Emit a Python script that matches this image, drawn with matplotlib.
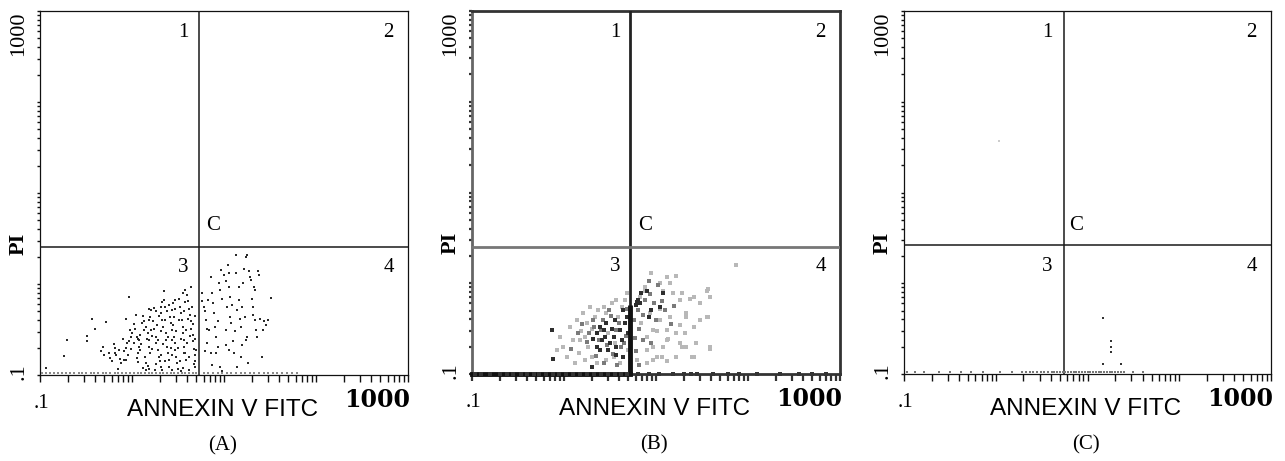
#Annexin V / PI flow cytometry dot plots, panels A, B and C
#values are log10 of fluorescence intensity (axes run from .1 to 1000)
import numpy as np
import matplotlib
matplotlib.use("Agg")
import matplotlib.pyplot as plt
from matplotlib.ticker import LogLocator, NullFormatter

SERIF = "Liberation Serif"
SANS = "Liberation Sans"

#quadrant gate (log10 units) for each panel
gate_x = {"A": 0.73, "B": 0.72, "C": 0.74}
gate_y = {"A": 0.41, "B": 0.40, "C": 0.42}

#Panel A events (log10 annexin, log10 PI)
a_events = [
    (-0.93, -0.92), (-0.74, -0.79), (-0.71, -0.62), (-0.49, -0.57), (-0.49, -0.63),
    (-0.43, -0.38), (-0.40, -0.49), (-0.28, -0.42), (-0.03, -0.14), (-0.06, -0.38),
    (-0.34, -0.74), (-0.32, -0.69), (-0.25, -0.76), (-0.24, -0.81), (-0.18, -0.70),
    (-0.18, -0.76), (-0.17, -0.78), (-0.14, -0.73), (-0.09, -0.74), (-0.09, -0.83),
    (-0.06, -0.70), (-0.03, -0.63), (-0.01, -0.58), (0.00, -0.54), (0.03, -0.49),
    (0.05, -0.81), (0.06, -0.76), (0.08, -0.69), (0.08, -0.62), (0.09, -0.73),
    (0.11, -0.43), (0.13, -0.41), (0.15, -0.47), (0.17, -0.54), (0.18, -0.62),
    (0.19, -0.69), (0.20, -0.76), (0.15, -0.87), (0.17, -0.90), (0.18, -0.93),
    (0.20, -0.36), (0.21, -0.29), (0.23, -0.41), (0.24, -0.49), (0.26, -0.58),
    (0.26, -0.65), (0.28, -0.73), (0.29, -0.80), (0.30, -0.85), (0.31, -0.91),
    (0.32, -0.32), (0.33, -0.40), (0.34, -0.47), (0.35, -0.18), (0.36, -0.25),
    (0.37, -0.54), (0.37, -0.62), (0.38, -0.69), (0.39, -0.76), (0.40, -0.84),
    (0.41, -0.36), (0.42, -0.43), (0.43, -0.51), (0.44, -0.29), (0.45, -0.21),
    (0.46, -0.58), (0.47, -0.65), (0.47, -0.73), (0.48, -0.80), (0.49, -0.87),
    (0.50, -0.93), (0.51, -0.16), (0.52, -0.25), (0.53, -0.32), (0.54, -0.40),
    (0.55, -0.47), (0.55, -0.54), (0.57, -0.62), (0.57, -0.69), (0.58, -0.76),
    (0.59, -0.84), (0.60, -0.12), (0.61, -0.19), (0.62, -0.27), (0.63, -0.34),
    (0.64, -0.41), (0.64, -0.49), (0.66, -0.56), (0.66, -0.63), (0.67, -0.71),
    (0.68, -0.78), (0.68, -0.85), (0.69, -0.91), (0.64, -0.03), (0.58, -0.07),
    (0.55, -0.10), (0.47, -0.18), (0.35, -0.08), (0.40, -0.23), (0.31, -0.25),
    (0.26, -0.30), (0.18, -0.40), (0.13, -0.51), (0.09, -0.56), (0.06, -0.60),
    (0.02, -0.65), (-0.01, -0.71), (-0.04, -0.78), (-0.07, -0.84), (-0.12, -0.87),
    (-0.15, -0.93), (0.62, -0.95), (0.53, -0.96), (0.44, -0.95), (0.33, -0.95),
    (0.25, -0.94), (0.15, -0.95),
    (0.02, -0.44), (0.05, -0.58), (0.10, -0.66), (0.12, -0.35), (0.14, -0.80),
    (0.16, -0.60), (0.21, -0.50), (0.22, -0.71), (0.24, -0.26), (0.27, -0.45),
    (0.28, -0.62), (0.31, -0.52), (0.32, -0.78), (0.34, -0.66), (0.36, -0.40),
    (0.38, -0.30), (0.39, -0.58), (0.42, -0.70), (0.43, -0.62), (0.45, -0.45),
    (0.46, -0.36), (0.48, -0.52), (0.50, -0.70), (0.51, -0.40), (0.52, -0.85),
    (0.53, -0.60), (0.56, -0.30), (0.57, -0.76), (0.59, -0.50), (0.60, -0.65),
    (0.61, -0.38), (0.62, -0.80), (0.63, -0.57), (0.65, -0.25), (0.66, -0.44),
    (0.67, -0.88), (0.68, -0.60), (0.69, -0.35), (0.70, -0.72), (-0.02, -0.50),
    (-0.05, -0.65), (-0.10, -0.60), (-0.13, -0.82), (-0.20, -0.66), (-0.22, -0.85),
    (-0.30, -0.78), (0.07, -0.86), (0.12, -0.92), (0.26, -0.88), (0.40, -0.91),
    (0.55, -0.92), (0.47, -0.27), (0.33, -0.20), (0.58, -0.20), (0.29, -0.35),
    (0.19, -0.27), (0.04, -0.34), (0.44, -0.78), (0.36, -0.85), (0.22, -0.57),
    (0.76, -0.10), (0.76, -0.19), (0.78, -0.25), (0.79, -0.30), (0.80, -0.40),
    (0.81, -0.49), (0.83, -0.18), (0.86, 0.08), (0.87, -0.10), (0.88, -0.21),
    (0.89, -0.32), (0.90, -0.47), (0.91, -0.58), (0.93, -0.69), (0.95, 0.01),
    (0.96, -0.07), (0.97, 0.15), (0.98, -0.16), (1.00, 0.10), (1.02, 0.03),
    (1.03, -0.25), (1.04, 0.21), (1.05, 0.12), (1.05, -0.03), (1.06, -0.36),
    (1.07, -0.14), (1.08, -0.43), (1.09, -0.23), (1.10, -0.63), (1.11, -0.76),
    (1.12, -0.52), (1.13, 0.12), (1.13, 0.32), (1.14, -0.29), (1.16, -0.03),
    (1.16, -0.18), (1.17, -0.38), (1.18, -0.47), (1.19, -0.80), (1.20, -0.25),
    (1.21, 0.01), (1.22, 0.17), (1.23, -0.36), (1.24, -0.62), (1.24, 0.30),
    (1.25, 0.32), (1.26, -0.87), (1.27, 0.14), (1.28, 0.08), (1.29, 0.04),
    (1.30, -0.16), (1.31, -0.25), (1.32, -0.34), (1.33, -0.03), (1.34, -0.07),
    (1.34, -0.40), (1.35, -0.51), (1.36, -0.58), (1.37, 0.14), (1.38, 0.10),
    (1.39, -0.38), (1.41, -0.80), (1.42, -0.51), (1.43, -0.41), (1.46, -0.45),
    (1.48, -0.40), (1.51, -0.15), (0.86, -0.76), (0.87, -0.89), (0.91, -0.76),
    (0.96, -0.91), (0.98, -0.96), (1.02, -0.67), (1.05, -0.73), (1.14, -0.91),
    (1.20, -0.67), (1.25, -0.58), (0.81, -0.65), (0.79, -0.74), (0.84, -0.51),
    (0.93, -0.41), (1.02, -0.51),
]
#events sitting on the PI floor
a_floor_x = [-0.98, -0.94, -0.89, -0.85, -0.80, -0.76, -0.72, -0.67, -0.63, -0.58,
             -0.54, -0.50, -0.45, -0.41, -0.37, -0.32, -0.28, -0.24, -0.19, -0.15,
             -0.11, -0.06, -0.02, 0.02, 0.06, 0.10, 0.14, 0.18, 0.22, 0.26, 0.30,
             0.34, 0.38, 0.42, 0.46, 0.50, 0.54, 0.58, 0.62, 0.66, 0.70, 0.78, 0.83,
             0.88, 0.93, 0.98, 1.03, 1.08, 1.13, 1.18, 1.23, 1.28, 1.33, 1.38, 1.43,
             1.48, 1.53, 1.58, 1.63, 1.68, 1.74, 1.79]
a_floor_y = -0.975

#Panel B events, split by how dark the dot prints
b_dark = [
    (-0.13, -0.52), (-0.12, -0.83), (0.30, -0.92), (0.36, -0.55), (0.39, -0.48),
    (0.41, -0.63), (0.43, -0.52), (0.46, -0.44), (0.48, -0.74), (0.52, -0.50),
    (0.54, -0.59), (0.55, -0.41), (0.57, -0.70), (0.61, -0.52), (0.63, -0.63),
    (0.64, -0.81), (0.66, -0.44), (0.68, -0.37), (0.70, -0.55), (0.39, -0.74),
    (0.45, -0.59), (0.50, -0.66), (0.57, -0.79), (0.32, -0.61), (0.36, -0.70),
    (0.64, -0.30), (0.79, -0.21), (0.83, -0.22), (0.84, -0.11), (0.90, -0.08),
    (0.92, -0.37), (0.95, -0.30), (1.04, -0.26), (1.08, -0.11), (0.78, -0.24),
    (0.80, -0.19),
]
b_mid = [
    (0.20, -0.45), (0.27, -0.55), (0.33, -0.48), (0.38, -0.62), (0.42, -0.40),
    (0.47, -0.68), (0.51, -0.36), (0.56, -0.52), (0.60, -0.44), (0.62, -0.70),
    (0.67, -0.58), (0.69, -0.28), (0.35, -0.80), (0.44, -0.88), (0.58, -0.90),
    (0.25, -0.65), (0.15, -0.55), (0.08, -0.72), (0.49, -0.30), (0.53, -0.78),
    (0.65, -0.66), (0.40, -0.52), (0.31, -0.40), (0.80, -0.30), (0.86, -0.35),
    (0.88, -0.18), (0.93, -0.12), (0.98, -0.22), (1.00, -0.40), (1.06, -0.20),
    (1.10, -0.30), (1.16, -0.45), (0.82, -0.50), (0.86, -0.62), (0.95, -0.66),
    (1.20, -0.25), (1.02, -0.02), (0.92, 0.02), (0.76, -0.40), (0.77, -0.60),
    (0.78, -0.75), (0.82, -0.90),
]
b_light = [
    (1.87, 0.20), (0.95, 0.11), (1.22, 0.08), (1.15, 0.00), (1.08, -0.08),
    (0.88, -0.08), (1.28, -0.11), (1.37, -0.17), (1.57, -0.06), (1.48, -0.22),
    (1.59, -0.15), (1.04, -0.28), (0.93, -0.33), (1.15, -0.37), (1.33, -0.33),
    (1.26, -0.46), (1.48, -0.41), (1.57, -0.37), (1.01, -0.53), (1.13, -0.61),
    (1.31, -0.55), (0.97, -0.70), (1.28, -0.70), (1.59, -0.72), (1.44, -0.66),
    (1.39, -0.81), (1.22, -0.81), (1.06, -0.81), (0.97, -0.85), (1.12, -0.52),
    (0.83, -0.15), (-0.04, -0.59), (-0.01, -0.70), (0.07, -0.48), (0.10, -0.63),
    (0.14, -0.41), (0.16, -0.77), (0.19, -0.53), (0.21, -0.33), (0.25, -0.44),
    (0.26, -0.70), (0.28, -0.26), (0.30, -0.81), (0.34, -0.37), (0.37, -0.30),
    (0.43, -0.26), (0.46, -0.85), (0.52, -0.22), (0.54, -0.81), (0.57, -0.19),
    (0.61, -0.88), (0.66, -0.19), (0.70, -0.74), (0.12, -0.88), (0.03, -0.81),
    (-0.08, -0.74), (0.23, -0.85), (0.36, -0.88), (0.17, -0.63), (0.46, -0.33),
    (0.59, -0.37), (0.23, -0.59), (0.30, -0.50), (0.48, -0.55), (0.55, -0.66),
    (0.63, -0.26), (0.68, -0.11), (0.95, 0.11), (1.12, 0.07), (0.88, -0.04),
    (1.04, 0.00), (1.19, -0.11), (1.26, -0.19), (1.41, -0.15), (1.55, -0.08),
    (0.84, -0.44), (0.90, -0.59), (0.97, -0.52), (1.04, -0.41), (1.12, -0.63),
    (1.22, -0.55), (1.33, -0.37), (1.41, -0.48), (1.55, -0.37), (0.90, -0.74),
    (1.01, -0.81), (1.08, -0.70), (1.26, -0.66), (1.41, -0.81), (1.59, -0.70),
    (0.79, -0.85), (0.90, -0.88), (1.12, -0.86), (1.33, -0.70),
]
#events piled on the gate and on the PI floor in B
b_pile_top = -0.24
b_floor_x = [-0.97, -0.90, -0.80, -0.70, -0.62, -0.55, -0.47, -0.40, -0.33, -0.27,
             -0.20, -0.12, -0.05, 0.02, 0.10, 0.17, 0.25, 0.33, 0.40, 0.48, 0.55,
             0.62, 0.68, 0.80, 0.92, 1.03, 1.18, 1.30, 1.38, 1.45, 1.62, 1.78,
             1.90, 2.10, 2.35, 2.55, 2.70, 2.85]

#Panel C events
c_events = [(1.17, -0.38), (1.26, -0.64), (1.26, -0.70), (1.26, -0.76),
            (1.17, -0.89), (1.36, -0.89)]
c_faint = [(0.03, 1.57)]
c_floor_x = [-0.97, -0.88, -0.78, -0.62, -0.50, -0.38, -0.27, -0.14, 0.05, 0.18,
             0.29, 0.33, 0.37, 0.41, 0.45, 0.49, 0.53, 0.57, 0.61, 0.64, 0.67,
             0.70, 0.73, 0.76, 0.79, 0.82, 0.85, 0.88, 0.91, 0.94, 0.97, 1.00,
             1.03, 1.06, 1.09, 1.12, 1.15, 1.18, 1.21, 1.24, 1.27, 1.30, 1.33,
             1.36, 1.40, 1.50, 1.60]
c_floor_y = -0.975


def setup_axes(ax, name, heavy=False):
    ax.set_xscale("log")
    ax.set_yscale("log")
    ax.set_xlim(0.1, 1000)
    ax.set_ylim(0.1, 1000)
    col = "#333333" if heavy else "#111111"
    ax.xaxis.set_major_locator(LogLocator(base=10))
    ax.xaxis.set_minor_locator(LogLocator(base=10, subs=np.arange(2, 10)))
    ax.yaxis.set_major_locator(LogLocator(base=10))
    ax.yaxis.set_minor_locator(LogLocator(base=10, subs=np.arange(2, 10)))
    for a in (ax.xaxis, ax.yaxis):
        a.set_major_formatter(NullFormatter())
        a.set_minor_formatter(NullFormatter())
    tw = 1.6 if heavy else 1.0
    ax.tick_params(axis="x", which="both", direction="out", length=5, width=tw,
                   color=col, top=False)
    ax.tick_params(axis="y", which="both", direction="out", length=2.5, width=tw,
                   color=col, right=False)
    for side, sp in ax.spines.items():
        sp.set_color(col)
        sp.set_linewidth(2.0 if heavy else 0.9)
    if heavy:
        ax.spines["left"].set_color("#666666")

    #quadrant lines
    gx = 10 ** gate_x[name]
    gy = 10 ** gate_y[name]
    ax.axvline(gx, color="#222222" if heavy else "#1a1a1a",
               lw=2.0 if heavy else 1.1, zorder=3)
    ax.axhline(gy, color="#777777" if heavy else "#1a1a1a",
               lw=2.0 if heavy else 1.1, zorder=3)

    #quadrant numbers
    qfs = 15
    ax.text(0.39, 0.94, "1", transform=ax.transAxes, ha="center", va="center",
            fontsize=qfs, family=SERIF)
    ax.text(0.947, 0.94, "2", transform=ax.transAxes, ha="center", va="center",
            fontsize=qfs, family=SERIF)
    ax.text(0.39, 0.295, "3", transform=ax.transAxes, ha="center", va="center",
            fontsize=qfs, family=SERIF)
    ax.text(0.947, 0.295, "4", transform=ax.transAxes, ha="center", va="center",
            fontsize=qfs, family=SERIF)
    ax.text(0.47, 0.41, "C", transform=ax.transAxes, ha="center", va="center",
            fontsize=qfs, family=SERIF)

    #axis labels drawn as text so each piece keeps its own font
    ax.text(-0.058, 1.0, "1000", transform=ax.transAxes, rotation=90,
            ha="center", va="top", fontsize=16, family=SERIF)
    ax.text(-0.058, 0.01, ".1", transform=ax.transAxes, rotation=90,
            ha="center", va="center", fontsize=16, family=SERIF)
    ax.text(-0.058, 0.36, "PI", transform=ax.transAxes, rotation=90,
            ha="center", va="center", fontsize=16, family=SERIF, weight="bold")
    ax.text(0.005, -0.078, ".1", transform=ax.transAxes, ha="center",
            va="center", fontsize=15, family=SERIF)
    ax.text(0.495, -0.097, "ANNEXIN V FITC", transform=ax.transAxes,
            ha="center", va="center", fontsize=17.5, family=SANS)
    ax.text(1.005, -0.07, "1000", transform=ax.transAxes, ha="right",
            va="center", fontsize=17, family="DejaVu Serif", weight="bold")
    ax.text(0.495, -0.195, "(" + name + ")", transform=ax.transAxes,
            ha="center", va="center", fontsize=15, family=SERIF)


fig = plt.figure(figsize=(12.85, 4.61), dpi=100)
ax_a = fig.add_axes([40 / 1285, 86 / 461, 368 / 1285, 364 / 461])
ax_b = fig.add_axes([472 / 1285, 87 / 461, 368 / 1285, 363 / 461])
ax_c = fig.add_axes([904 / 1285, 87 / 461, 367 / 1285, 363 / 461])

#Panel A
setup_axes(ax_a, "A")
ev = np.array(a_events)
ax_a.scatter(10 ** ev[:, 0], 10 ** ev[:, 1], s=3.4, marker="s", c="#2a2a2a",
             linewidths=0, zorder=4)
ax_a.scatter(10 ** np.array(a_floor_x), np.full(len(a_floor_x), 10 ** a_floor_y),
             s=1.8, marker="s", c="#8a8a8a", linewidths=0, zorder=4)

#Panel B (blurred print, so bigger soft dots)
setup_axes(ax_b, "B", heavy=True)
ev = np.array(b_light)
ax_b.scatter(10 ** ev[:, 0], 10 ** ev[:, 1], s=5.5, marker="s", c="#b8b8b8",
             linewidths=0, zorder=4)
ev = np.array(b_mid)
ax_b.scatter(10 ** ev[:, 0], 10 ** ev[:, 1], s=6, marker="s", c="#7a7a7a",
             linewidths=0, zorder=4)
ev = np.array(b_dark)
ax_b.scatter(10 ** ev[:, 0], 10 ** ev[:, 1], s=7.5, marker="s", c="#2e2e2e",
             linewidths=0, zorder=4)
ax_b.plot([10 ** gate_x["B"]] * 2, [0.1, 10 ** b_pile_top], color="#111111",
          lw=3.5, solid_capstyle="butt", zorder=5)
ax_b.plot([0.1, 10 ** gate_x["B"]], [0.1, 0.1], color="#111111", lw=3.5,
          zorder=5, clip_on=False)
ax_b.scatter(10 ** np.array(b_floor_x), np.full(len(b_floor_x), 0.1), s=9,
             marker="s", c="#333333", linewidths=0, zorder=5, clip_on=False)

#Panel C
setup_axes(ax_c, "C")
ev = np.array(c_events)
ax_c.scatter(10 ** ev[:, 0], 10 ** ev[:, 1], s=2.2, marker="s", c="#333333",
             linewidths=0, zorder=4)
ev = np.array(c_faint)
ax_c.scatter(10 ** ev[:, 0], 10 ** ev[:, 1], s=2.2, marker="s", c="#cccccc",
             linewidths=0, zorder=4)
ax_c.scatter(10 ** np.array(c_floor_x), np.full(len(c_floor_x), 10 ** c_floor_y),
             s=1.6, marker="s", c="#777777", linewidths=0, zorder=4)

fig.savefig("out.png", dpi=100)
